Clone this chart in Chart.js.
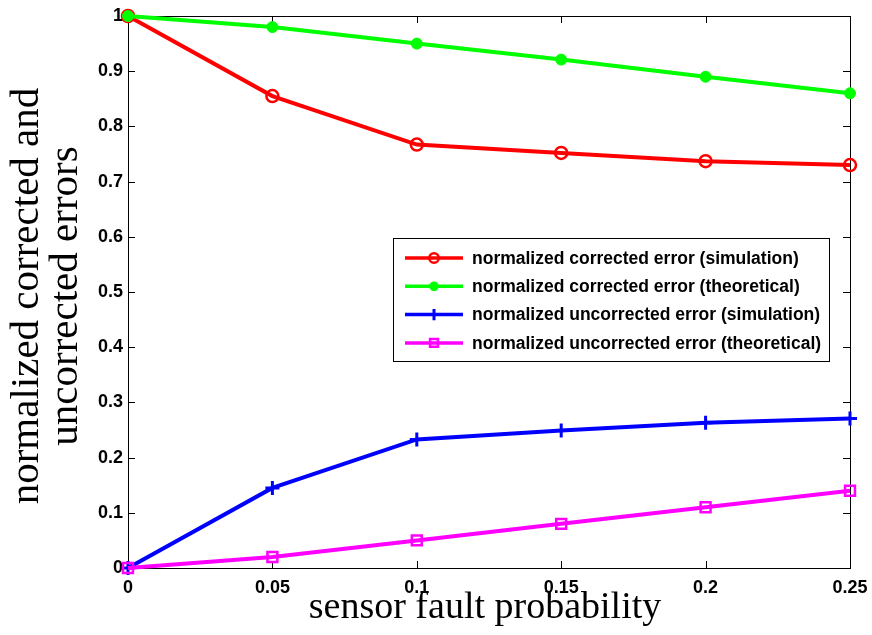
<!DOCTYPE html>
<html>
<head>
<meta charset="utf-8">
<script src="https://cdn.jsdelivr.net/npm/chart.js@4/dist/chart.umd.min.js"></script>
<style>
  html, body { margin: 0; padding: 0; background: #fff; }
  #wrap { width: 872px; height: 635px; }
</style>
</head>
<body>
<div id="wrap"><canvas id="myChart" width="872" height="635"></canvas></div>
<script>
// data
const faultProb = [0, 0.05, 0.1, 0.15, 0.2, 0.25];
const corrSim = [1.0, 0.855, 0.767, 0.752, 0.737, 0.730];
const corrTheo = [1.0, 0.980, 0.950, 0.921, 0.890, 0.860];
const uncorrSim = [0, 0.145, 0.233, 0.249, 0.263, 0.271];
const uncorrTheo = [0, 0.020, 0.050, 0.080, 0.110, 0.140];
const seriesNames = [
    'normalized corrected error (simulation)',
    'normalized corrected error (theoretical)',
    'normalized uncorrected error (simulation)',
    'normalized uncorrected error (theoretical)'
];
const xTitle = 'sensor fault probability';
const yTitle = ['normalized corrected and', 'uncorrected errors'];

function pts(ys) {
    return faultProb.map(function (x, i) { return { x: x, y: ys[i] }; });
}

// matlab style box, inward ticks, titles and legend
const matlabBits = {
    id: 'matlabBits',
    beforeDatasetsDraw(chart) {
        const ctx = chart.ctx;
        const a = chart.chartArea;
        const xs = chart.scales.x, ys = chart.scales.y;
        ctx.save();
        ctx.strokeStyle = '#000';
        ctx.lineWidth = 1;
        ctx.strokeRect(a.left + 0.5, a.top + 0.5, a.right - a.left, a.bottom - a.top);
        ctx.beginPath();
        xs.ticks.forEach(function (t) {
            const px = Math.round(xs.getPixelForValue(t.value)) + 0.5;
            ctx.moveTo(px, a.bottom); ctx.lineTo(px, a.bottom - 7);
            ctx.moveTo(px, a.top); ctx.lineTo(px, a.top + 7);
        });
        ys.ticks.forEach(function (t) {
            const py = Math.round(ys.getPixelForValue(t.value)) + 0.5;
            ctx.moveTo(a.left, py); ctx.lineTo(a.left + 7, py);
            ctx.moveTo(a.right, py); ctx.lineTo(a.right - 7, py);
        });
        ctx.stroke();
        ctx.restore();
    },
    afterDraw(chart) {
        const ctx = chart.ctx;
        const a = chart.chartArea;
        ctx.save();
        ctx.fillStyle = '#000';
        // x title
        ctx.font = '38px "Liberation Serif"';
        ctx.textAlign = 'center';
        ctx.textBaseline = 'alphabetic';
        ctx.fillText(xTitle, (a.left + a.right) / 2 - 4, 618);
        // y title, two lines
        ctx.font = '41px "Liberation Serif"';
        ctx.translate(0, (a.top + a.bottom) / 2 + 4);
        ctx.rotate(-Math.PI / 2);
        ctx.fillText(yTitle[0], 0, 38);
        ctx.fillText(yTitle[1], 0, 77);
        ctx.restore();

        // legend
        const lx = 393, ly = 238, lw = 436, lh = 123;
        ctx.save();
        ctx.fillStyle = '#fff';
        ctx.fillRect(lx, ly, lw, lh);
        ctx.strokeStyle = '#000';
        ctx.lineWidth = 1;
        ctx.strokeRect(lx + 0.5, ly + 0.5, lw, lh);
        ctx.textBaseline = 'middle';
        ctx.textAlign = 'left';
        chart.data.datasets.forEach(function (ds, i) {
            const y = 258 + i * 28.3;
            ctx.strokeStyle = ds.borderColor;
            ctx.lineWidth = 3.5;
            ctx.beginPath();
            ctx.moveTo(405, y); ctx.lineTo(463, y);
            ctx.stroke();
            ctx.fillStyle = ds.pointBackgroundColor;
            ctx.strokeStyle = ds.pointBorderColor;
            ctx.lineWidth = ds.pointBorderWidth;
            Chart.helpers.drawPoint(ctx, {
                pointStyle: ds.pointStyle,
                radius: ds.pointRadius * 0.8,
                borderWidth: ds.pointBorderWidth
            }, 434, y);
            ctx.fillStyle = '#000';
            ctx.font = 'bold 17.5px "Liberation Sans"';
            ctx.fillText(seriesNames[i], 472, y + 1);
        });
        ctx.restore();
    }
};

const ctx = document.getElementById('myChart').getContext('2d');
const myChart = new Chart(ctx, {
    type: 'line',
    data: {
        datasets: [{
            label: seriesNames[0],
            data: pts(corrSim),
            borderColor: '#ff0000',
            pointBorderColor: '#ff0000',
            pointBackgroundColor: 'rgba(0,0,0,0)',
            pointStyle: 'circle',
            pointRadius: 6,
            pointBorderWidth: 2.5,
            borderWidth: 4,
            order: 3
        }, {
            label: seriesNames[1],
            data: pts(corrTheo),
            borderColor: '#00ff00',
            pointBorderColor: '#00ff00',
            pointBackgroundColor: '#00ff00',
            pointStyle: 'circle',
            pointRadius: 5.5,
            pointBorderWidth: 1,
            borderWidth: 4,
            order: 2
        }, {
            label: seriesNames[2],
            data: pts(uncorrSim),
            borderColor: '#0000ff',
            pointBorderColor: '#0000ff',
            pointBackgroundColor: '#0000ff',
            pointStyle: 'cross',
            pointRadius: 7,
            pointBorderWidth: 3,
            borderWidth: 4,
            order: 1
        }, {
            label: seriesNames[3],
            data: pts(uncorrTheo),
            borderColor: '#ff00ff',
            pointBorderColor: '#ff00ff',
            pointBackgroundColor: 'rgba(0,0,0,0)',
            pointStyle: 'rect',
            pointRadius: 7,
            pointBorderWidth: 2.5,
            borderWidth: 4,
            order: 0
        }]
    },
    options: {
        responsive: false,
        animation: false,
        layout: { padding: { left: 0, top: 16, right: 22, bottom: 0 } },
        elements: { line: { tension: 0 } },
        datasets: { line: { clip: false } },
        plugins: {
            legend: { display: false },
            tooltip: { enabled: false }
        },
        scales: {
            x: {
                type: 'linear',
                min: 0,
                max: 0.25,
                grid: { display: false, drawTicks: false },
                border: { display: false },
                ticks: {
                    stepSize: 0.05,
                    padding: 9,
                    color: '#000',
                    font: { family: 'Liberation Sans', size: 18, weight: 'bold' },
                    callback: function (v) { return String(parseFloat(v.toFixed(2))); }
                },
                afterFit: function (s) {
                    s.height = 67;
                    s.paddingLeft = 0;
                    s.paddingRight = 0;
                }
            },
            y: {
                min: 0,
                max: 1,
                grid: { display: false, drawTicks: false },
                border: { display: false },
                ticks: {
                    stepSize: 0.1,
                    padding: 5,
                    color: '#000',
                    font: { family: 'Liberation Sans', size: 18, weight: 'bold' },
                    callback: function (v) { return String(parseFloat(v.toFixed(2))); }
                },
                afterFit: function (s) {
                    s.width = 128;
                    s.paddingTop = 0;
                    s.paddingBottom = 0;
                }
            }
        }
    },
    plugins: [matlabBits]
});
</script>
</body>
</html>
